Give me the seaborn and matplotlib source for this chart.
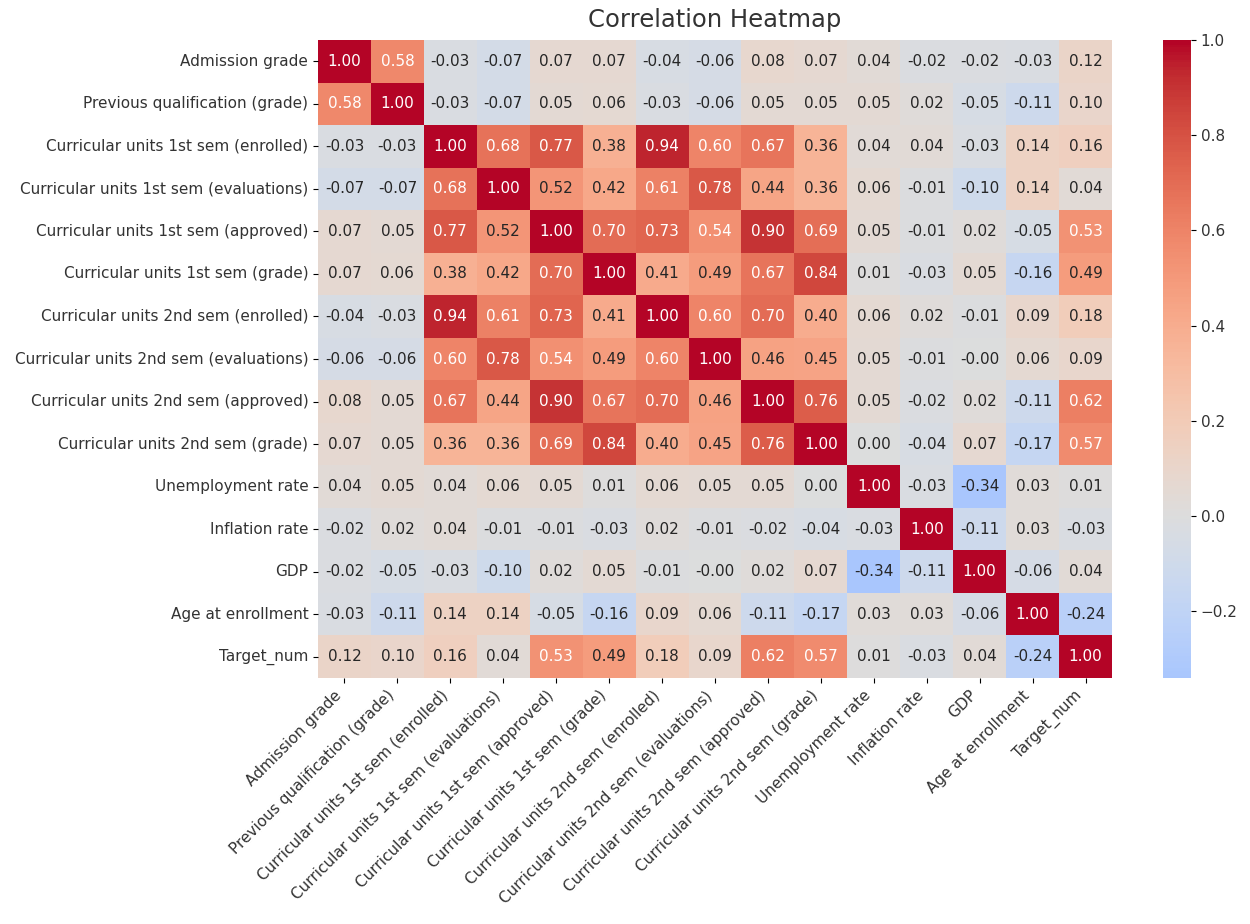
import numpy as np
import pandas as pd
import matplotlib
matplotlib.use("Agg")
import matplotlib.pyplot as plt
import seaborn as sns

features = [
    "Admission grade",
    "Previous qualification (grade)",
    "Curricular units 1st sem (enrolled)",
    "Curricular units 1st sem (evaluations)",
    "Curricular units 1st sem (approved)",
    "Curricular units 1st sem (grade)",
    "Curricular units 2nd sem (enrolled)",
    "Curricular units 2nd sem (evaluations)",
    "Curricular units 2nd sem (approved)",
    "Curricular units 2nd sem (grade)",
    "Unemployment rate",
    "Inflation rate",
    "GDP",
    "Age at enrollment",
    "Target_num",
]

admission_grade = [1.00, 0.58, -0.03, -0.07, 0.07, 0.07, -0.04, -0.06, 0.08, 0.07, 0.04, -0.02, -0.02, -0.03, 0.12]
prev_qual_grade = [0.58, 1.00, -0.03, -0.07, 0.05, 0.06, -0.03, -0.06, 0.05, 0.05, 0.05, 0.02, -0.05, -0.11, 0.10]
cu1_enrolled = [-0.03, -0.03, 1.00, 0.68, 0.77, 0.38, 0.94, 0.60, 0.67, 0.36, 0.04, 0.04, -0.03, 0.14, 0.16]
cu1_evaluations = [-0.07, -0.07, 0.68, 1.00, 0.52, 0.42, 0.61, 0.78, 0.44, 0.36, 0.06, -0.01, -0.10, 0.14, 0.04]
cu1_approved = [0.07, 0.05, 0.77, 0.52, 1.00, 0.70, 0.73, 0.54, 0.90, 0.69, 0.05, -0.01, 0.02, -0.05, 0.53]
cu1_grade = [0.07, 0.06, 0.38, 0.42, 0.70, 1.00, 0.41, 0.49, 0.67, 0.84, 0.01, -0.03, 0.05, -0.16, 0.49]
cu2_enrolled = [-0.04, -0.03, 0.94, 0.61, 0.73, 0.41, 1.00, 0.60, 0.70, 0.40, 0.06, 0.02, -0.01, 0.09, 0.18]
cu2_evaluations = [-0.06, -0.06, 0.60, 0.78, 0.54, 0.49, 0.60, 1.00, 0.46, 0.45, 0.05, -0.01, -0.00, 0.06, 0.09]
cu2_approved = [0.08, 0.05, 0.67, 0.44, 0.90, 0.67, 0.70, 0.46, 1.00, 0.76, 0.05, -0.02, 0.02, -0.11, 0.62]
cu2_grade = [0.07, 0.05, 0.36, 0.36, 0.69, 0.84, 0.40, 0.45, 0.76, 1.00, 0.00, -0.04, 0.07, -0.17, 0.57]
unemployment = [0.04, 0.05, 0.04, 0.06, 0.05, 0.01, 0.06, 0.05, 0.05, 0.00, 1.00, -0.03, -0.34, 0.03, 0.01]
inflation = [-0.02, 0.02, 0.04, -0.01, -0.01, -0.03, 0.02, -0.01, -0.02, -0.04, -0.03, 1.00, -0.11, 0.03, -0.03]
gdp = [-0.02, -0.05, -0.03, -0.10, 0.02, 0.05, -0.01, -0.00, 0.02, 0.07, -0.34, -0.11, 1.00, -0.06, 0.04]
age_enrollment = [-0.03, -0.11, 0.14, 0.14, -0.05, -0.16, 0.09, 0.06, -0.11, -0.17, 0.03, 0.03, -0.06, 1.00, -0.24]
target_num = [0.12, 0.10, 0.16, 0.04, 0.53, 0.49, 0.18, 0.09, 0.62, 0.57, 0.01, -0.03, 0.04, -0.24, 1.00]

rows = [admission_grade, prev_qual_grade, cu1_enrolled, cu1_evaluations, cu1_approved,
        cu1_grade, cu2_enrolled, cu2_evaluations, cu2_approved, cu2_grade,
        unemployment, inflation, gdp, age_enrollment, target_num]
corr = pd.DataFrame(np.array(rows), index=features, columns=features)

text_color = "#333333"
plt.rcParams["text.color"] = text_color
plt.rcParams["xtick.labelcolor"] = text_color
plt.rcParams["ytick.labelcolor"] = text_color

fig = plt.figure(figsize=(12.5, 9.24), dpi=100)
W, H = 1250, 924
ax = fig.add_axes([318 / W, 1 - 678 / H, 794 / W, 638 / H])
cax = fig.add_axes([1163 / W, 1 - 678 / H, 28 / W, 638 / H])

sns.heatmap(corr, annot=True, fmt=".2f", cmap="coolwarm", center=0,
            ax=ax, cbar_ax=cax, annot_kws={"size": 11})
ax.set_title("Correlation Heatmap", fontsize=17.5, pad=9)
ax.set_xticklabels(ax.get_xticklabels(), rotation=45, ha="right", fontsize=11)
ax.set_yticklabels(ax.get_yticklabels(), rotation=0, fontsize=11)
cax.tick_params(labelsize=11)

fig.savefig("out.png", dpi=100)
